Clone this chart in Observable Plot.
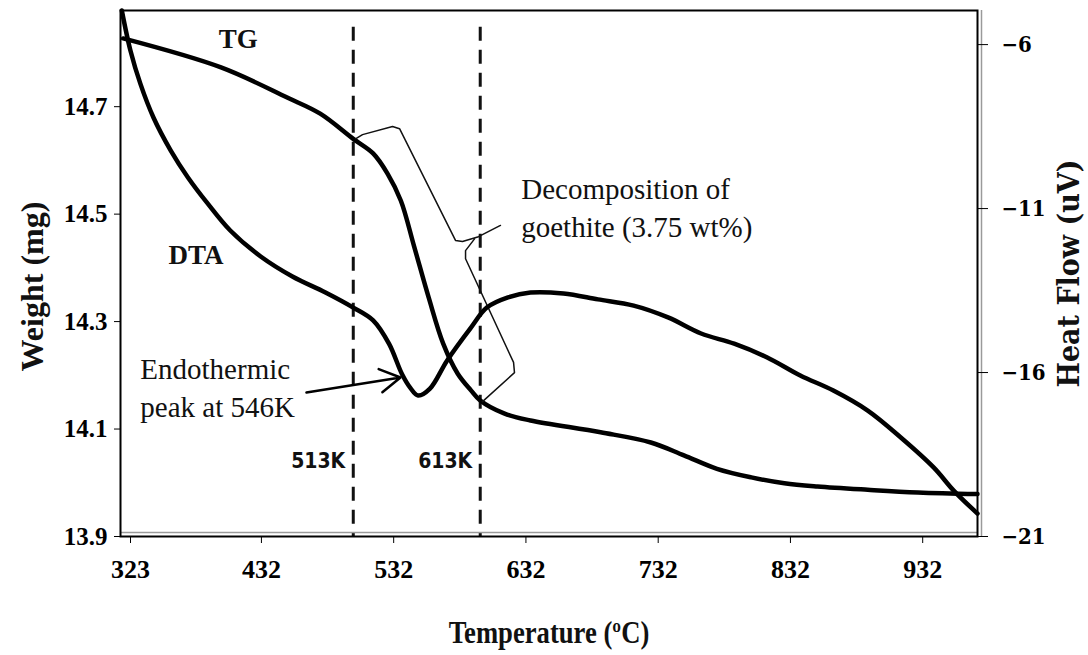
<!DOCTYPE html>
<html>
<head>
<meta charset="utf-8">
<script src="https://cdn.jsdelivr.net/npm/d3@7"></script>
<script src="https://cdn.jsdelivr.net/npm/@observablehq/plot@0.6"></script>
<style>
  html, body { margin: 0; padding: 0; background: white; }
  #wrap { position: relative; width: 1088px; height: 655px; }
  #wrap svg { position: absolute; left: 0; top: 0; }
</style>
</head>
<body>
<div id="wrap"></div>
<script>
// ---- data ----
const tgTemp   = [335, 409, 459, 484, 509, 524, 535, 545, 555, 566, 577, 588, 598, 605, 623, 643, 696, 734, 759, 784, 810, 835, 860, 898, 936, 981];
const tgWeight = [14.827, 14.773, 14.717, 14.687, 14.640, 14.613, 14.575, 14.525, 14.44, 14.345, 14.259, 14.203, 14.172, 14.153, 14.129, 14.116, 14.094, 14.075, 14.051, 14.026, 14.010, 13.999, 13.993, 13.987, 13.982, 13.979];

const dtaTemp = [334, 340.5, 348, 358, 371, 384, 399, 416, 439, 463, 488, 509, 524, 536, 546, 552, 558, 567, 580, 598, 610, 626, 643, 668, 694, 721, 747, 772, 797, 822, 847, 872, 898, 923, 948, 963, 981];
const dtaHeat = [-4.96, -6.18, -7.19, -8.23, -9.23, -10.05, -10.85, -11.67, -12.46, -13.07, -13.56, -14.02, -14.41, -15.12, -16.06, -16.46, -16.70, -16.49, -15.63, -14.63, -14.02, -13.71, -13.56, -13.59, -13.77, -13.96, -14.32, -14.81, -15.12, -15.54, -16.09, -16.55, -17.16, -17.98, -18.90, -19.60, -20.30];

const xTickValues = [333, 432, 532, 632, 732, 832, 932];
const xTickLabels = ["323", "432", "532", "632", "732", "832", "932"];
const weightTicks = [13.9, 14.1, 14.3, 14.5, 14.7];
const heatTicks = [-21, -16, -11, -6];

const markerTemps = [509, 605];
const markerLabels = ["513K", "613K"];

// callout bracket (temperature, weight)
const bracketATemp = [510.7, 516.0, 538.7, 544.0, 586.3, 591.6, 603.7, 620.3];
const bracketAW    = [14.640, 14.648, 14.663, 14.659, 14.451, 14.449, 14.458, 14.479];
const bracketBTemp = [600.7, 593.9, 593.9, 630.2, 630.9, 606.7];
const bracketBW    = [14.454, 14.432, 14.417, 14.224, 14.205, 14.151];

const xDomain = [333, 981];
const wDomain = [13.9, 14.879];
const hDomain = [-21, -4.96];

const W = 1088, H = 655;
const margins = {marginLeft: 120, marginRight: 111, marginTop: 10, marginBottom: 119};
const serif = "Liberation Serif, Times New Roman, serif";

const tg = tgTemp.map((t, i) => ({t, w: tgWeight[i]}));
const dta = dtaTemp.map((t, i) => ({t, h: dtaHeat[i]}));
const brA = bracketATemp.map((t, i) => ({t, w: bracketAW[i]}));
const brB = bracketBTemp.map((t, i) => ({t, w: bracketBW[i]}));
const markers = markerTemps.map((t, i) => ({t, label: markerLabels[i]}));

const plot1 = Plot.plot({
  width: W, height: H, ...margins,
  style: {fontFamily: serif, background: "white", overflow: "visible"},
  x: {domain: xDomain},
  y: {domain: wDomain},
  marks: [
    Plot.ruleX(markers, {x: "t", y1: 14.848, y2: 13.9, stroke: "#111", strokeWidth: 3, strokeDasharray: "14,9"}),
    Plot.text(markers, {x: "t", y: 14.04, text: "label", dx: -8, textAnchor: "end", fontFamily: "Liberation Sans Narrow, DejaVu Sans Condensed, sans-serif", fontWeight: "bold", fontSize: 21, fill: "#111"}),
    Plot.line(tg, {x: "t", y: "w", stroke: "#000", strokeWidth: 4.5, curve: "catmull-rom"}),
    Plot.line(brA, {x: "t", y: "w", stroke: "#111", strokeWidth: 1.5, curve: "linear"}),
    Plot.line(brB, {x: "t", y: "w", stroke: "#111", strokeWidth: 1.5, curve: "linear"}),
    Plot.arrow([{x1: 473.6, y1: 14.168, x2: 544.7, y2: 14.196}], {x1: "x1", y1: "y1", x2: "x2", y2: "y2", stroke: "#000", strokeWidth: 2.5, headLength: 14, bend: 0}),
    Plot.text(["TG"], {x: 422, y: 14.826, text: d => d, fontSize: 27, fontWeight: "bold", fill: "#111"}),
    Plot.text(["DTA"], {x: 390, y: 14.423, text: d => d, fontSize: 27, fontWeight: "bold", fill: "#111"}),
    Plot.text(["Endothermic\npeak at 546K"], {x: 348, y: 14.18, text: d => d, textAnchor: "start", fontSize: 29, lineHeight: 1.3, fill: "#111"}),
    Plot.text(["Decomposition of\ngoethite (3.75 wt%)"], {x: 636, y: 14.515, text: d => d, textAnchor: "start", fontSize: 29, lineHeight: 1.3, fill: "#111"}),
    Plot.axisX(xTickValues, {tickFormat: d => xTickLabels[xTickValues.indexOf(d)], tickSize: 7, tickPadding: 16, fontSize: 26, fontWeight: "bold", label: null, dx: 10}),
    Plot.axisY(weightTicks, {tickFormat: d => d.toFixed(1), tickSize: 6, tickPadding: 7, fontSize: 25, fontWeight: "bold", label: null}),
    Plot.text(["Weight (mg)"], {frameAnchor: "left", rotate: -90, dx: -88, dy: 13, textAnchor: "middle", lineAnchor: "middle", text: d => d, fontSize: 32, fontWeight: "bold", fill: "#111"}),
    Plot.text(["Temperature (\u00BAC)"], {frameAnchor: "bottom", dy: 97, textAnchor: "middle", lineAnchor: "middle", text: d => d, fontSize: 31, fontWeight: "bold", fill: "#111"}),
    Plot.ruleX([981], {stroke: "#9a9a9a", strokeWidth: 1.5, dx: 4}),
    Plot.ruleY([13.9], {stroke: "#9a9a9a", strokeWidth: 1.5, dy: -4}),
    Plot.frame({stroke: "#000", strokeWidth: 2})
  ]
});

const plot2 = Plot.plot({
  width: W, height: H, ...margins,
  style: {fontFamily: serif, background: "transparent", overflow: "visible"},
  x: {domain: xDomain, axis: null},
  y: {domain: hDomain, axis: null},
  marks: [
    Plot.line(dta, {x: "t", y: "h", stroke: "#000", strokeWidth: 4.5, curve: "catmull-rom"}),
    Plot.axisY(heatTicks, {anchor: "right", tickSize: 10, tickPadding: 14, fontSize: 22, fontWeight: "bold", fontFamily: "DejaVu Serif Condensed, DejaVu Serif, serif", label: null}),
    Plot.text(["Heat Flow (uV)"], {frameAnchor: "right", rotate: -90, dx: 92, textAnchor: "middle", lineAnchor: "middle", text: d => d, fontSize: 30, fontWeight: "bold", fontFamily: "DejaVu Serif Condensed, DejaVu Serif, serif", fill: "#111"})
  ]
});

document.getElementById("wrap").append(plot1, plot2);

// condensed look of the x-axis title, as in the reference
d3.select(plot1).selectAll("text")
  .filter(function () { return this.textContent.startsWith("Temperature"); })
  .attr("transform", function () { return (this.getAttribute("transform") || "") + " scale(0.86,1)"; });
</script>
</body>
</html>
